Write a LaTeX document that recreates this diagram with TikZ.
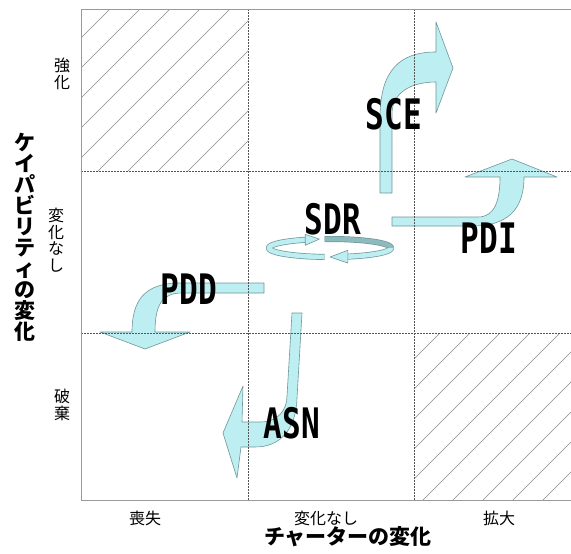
\documentclass[tikz,border=0pt]{standalone}
\usepackage{fontspec}
\newfontfamily\jp{Noto Sans CJK JP}
\newfontfamily\lblfont{DejaVu Sans Mono}
\definecolor{arrowfill}{HTML}{BDEEF1}
\definecolor{arrowedge}{HTML}{6F9799}
\definecolor{ringback}{HTML}{8DBBBD}
\definecolor{gridc}{HTML}{555555}
\definecolor{framec}{HTML}{9A9A9A}
\definecolor{hatchc}{HTML}{8A8A8A}
\begin{document}
\begin{tikzpicture}[x=1pt,y=-1pt,
  framel/.style={draw=framec,line width=1pt},
  gridl/.style={draw=gridc,line width=0.9pt,dash pattern=on 1.6pt off 1.4pt},
  hatchl/.style={draw=hatchc,line width=0.5pt},
  bent/.style={fill=arrowfill,draw=arrowedge,line width=0.6pt,line join=round},
  clabel/.style={font=\lblfont\bfseries\fontsize{42}{42}\selectfont, inner sep=0pt},
  tlabel/.style={font=\jp\fontsize{16}{16.5}\selectfont, inner sep=0pt, align=center},
  atitle/.style={font=\jp\bfseries\fontsize{21}{21}\selectfont, inner sep=0pt, align=center},
  ringedge/.style={line width=6pt, draw=arrowedge},
  ringfront/.style={line width=4.6pt, draw=arrowfill},
  ringbackl/.style={line width=4.6pt, draw=ringback},
]
\fill[white] (0,0) rectangle (571,554);
\useasboundingbox (0,0) rectangle (571,554);

% hatching
\begin{scope}
  \clip (81,9) rectangle (248,171);
  \foreach \c in {119,149,...,419} \draw[hatchl] ({\c-176},176) -- ({\c-4},4);
\end{scope}
\begin{scope}
  \clip (414,333) rectangle (571,500);
  \foreach \c in {773,803,...,1073} \draw[hatchl] ({\c-505},505) -- ({\c-328},328);
\end{scope}

% bent arrows
\draw[bent] (380,193) -- (380,118) .. controls (380,70) and (400,52) .. (436,52)
  -- (436,22) -- (453,68) -- (436,113) -- (436,82)
  .. controls (412,82) and (392,92) .. (392,114) -- (392,193) -- cycle;
\draw[bent] (392,217) -- (478,217) .. controls (495,217) and (500,200) .. (500,177)
  -- (465,177) -- (512,159) -- (557,177) -- (524,177)
  .. controls (524,212) and (505,226) .. (472,226) -- (392,226) -- cycle;
\draw[bent] (264,283) -- (180,283) .. controls (145,283) and (132,300) .. (132,332)
  -- (100,332) -- (145,349) -- (190,332) -- (155,332)
  .. controls (155,305) and (162,293) .. (182,293) -- (264,293) -- cycle;
\draw[bent] (292,313) -- (302,313) -- (297,398) .. controls (296,430) and (280,447) .. (255,447)
  -- (241,447) -- (237,478) -- (223,433) -- (243,386) -- (242,422) -- (260,422)
  .. controls (278,422) and (287,410) .. (287,396) -- cycle;

% SDR ring
\draw[ringedge] plot[domain=95:0,samples=30,variable=\t] ({330+61*cos(\t)},{248-9*sin(\t)});
\draw[ringbackl] plot[domain=95:0,samples=30,variable=\t] ({330+61*cos(\t)},{248-9*sin(\t)});
\draw[ringedge] plot[domain=0:-73,samples=30,variable=\t] ({330+61*cos(\t)},{248-9*sin(\t)});
\draw[ringfront] plot[domain=0:-73,samples=30,variable=\t] ({330+61*cos(\t)},{248-9*sin(\t)});
\draw[ringedge] plot[domain=265:114,samples=50,variable=\t] ({330+61*cos(\t)},{248-9*sin(\t)});
\draw[ringfront] plot[domain=265:114,samples=50,variable=\t] ({330+61*cos(\t)},{248-9*sin(\t)});
\draw[bent] (305.2,234.3) -- (319.4,239.1) -- (305.2,245.3) -- cycle;
\draw[bent] (347.8,250.3) -- (330,257) -- (347.8,263) -- cycle;

% grid
\draw[gridl] (248,9) -- (248,500);
\draw[gridl] (414,9) -- (414,500);
\draw[gridl] (81,171) -- (571,171);
\draw[gridl] (81,333) -- (571,333);
\draw[framel] (571,9) -- (81,9) -- (81,500) -- (571,500);

% labels
\node[clabel] (sce) at (394,114) {\scalebox{0.74}[1]{SCE}};
\node[clabel] (sdr) at (333,219) {\scalebox{0.74}[1]{SDR}};
\node[clabel] (pdi) at (489,238) {\scalebox{0.74}[1]{PDI}};
\node[clabel] (pdd) at (189,289) {\scalebox{0.74}[1]{PDD}};
\node[clabel] (asn) at (292,423) {\scalebox{0.74}[1]{ASN}};

\node[atitle] (ytitle) at (25,237.5) {ケ\\イ\\パ\\ビ\\リ\\テ\\ィ\\の\\変\\化};
\node[atitle] (xtitle) at (348,537) {チャーターの変化};
\node[tlabel] (ystrong) at (62,74) {強\\化};
\node[tlabel] (ysame) at (56,240) {変\\化\\な\\し};
\node[tlabel] (ydrop) at (62,405) {破\\棄};
\node[tlabel] (xloss) at (145,518) {喪失};
\node[tlabel] (xsame) at (326,518) {変化なし};
\node[tlabel] (xgrow) at (499,518) {拡大};
\end{tikzpicture}
\end{document}
